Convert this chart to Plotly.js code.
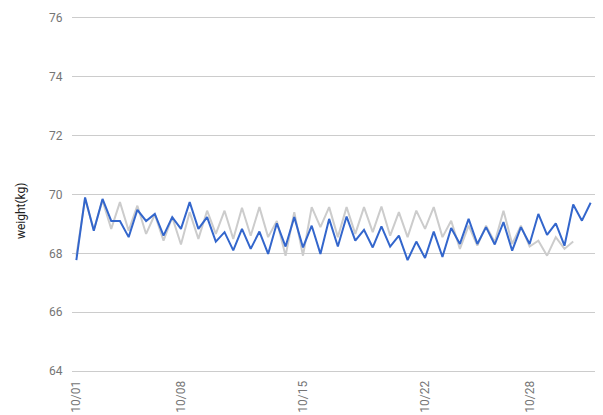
<!DOCTYPE html>
<html>
<head>
<meta charset="utf-8">
<script src="https://cdn.plot.ly/plotly-3.0.1.min.js"></script>
<style>
  html, body { margin: 0; padding: 0; background: #fff; }
  #chart { width: 603px; height: 415px; }
</style>
</head>
<body>
<div id="chart"></div>
<script>
// Measurement index (twice-daily readings)
const blueWeights = [
  67.77, 69.90, 68.77, 69.85, 69.10, 69.10, 68.55, 69.48, 69.10, 69.34,
  68.60, 69.23, 68.83, 69.74, 68.83, 69.23, 68.40, 68.72, 68.10, 68.83,
  68.15, 68.74, 67.98, 69.02, 68.23, 69.23, 68.20, 68.94, 67.98, 69.17,
  68.23, 69.25, 68.43, 68.80, 68.20, 68.92, 68.23, 68.60, 67.77, 68.40,
  67.84, 68.74, 67.88, 68.86, 68.32, 69.17, 68.32, 68.89, 68.30, 69.06,
  68.09, 68.89, 68.32, 69.34, 68.63, 69.02, 68.26, 69.66, 69.11, 69.72
];
const grayWeights = [
  67.92, 69.85, 68.80, 69.80, 68.83, 69.74, 68.77, 69.62, 68.66, 69.32,
  68.43, 69.23, 68.30, 69.40, 68.49, 69.45, 68.66, 69.45, 68.49, 69.55,
  68.60, 69.57, 68.55, 69.10, 67.92, 69.40, 67.92, 69.57, 68.89, 69.57,
  68.55, 69.57, 68.66, 69.57, 68.72, 69.59, 68.60, 69.40, 68.55, 69.45,
  68.83, 69.57, 68.55, 69.11, 68.15, 68.94, 68.26, 68.94, 68.38, 69.45,
  68.32, 68.94, 68.23, 68.43, 67.92, 68.55, 68.15, 68.40
];
const tickIndex = [0, 12, 26, 40, 52];
const tickLabels = ["10/01", "10/08", "10/15", "10/22", "10/28"];
const yTicks = [64, 66, 68, 70, 72, 74, 76];

const blueX = blueWeights.map((_, i) => i);
const grayX = grayWeights.map((_, i) => i);

const traces = [
  { x: grayX, y: grayWeights, type: 'scatter', mode: 'lines',
    line: { color: '#cccccc', width: 2 }, hoverinfo: 'none', showlegend: false },
  { x: blueX, y: blueWeights, type: 'scatter', mode: 'lines',
    line: { color: '#3366cc', width: 2 }, hoverinfo: 'none', showlegend: false }
];

const layout = {
  width: 603, height: 415,
  margin: { l: 72, r: 8, t: 18, b: 44 },
  paper_bgcolor: '#ffffff', plot_bgcolor: '#ffffff',
  font: { family: 'Roboto, Arial, sans-serif', size: 12, color: '#757575' },
  showlegend: false,
  xaxis: {
    range: [-0.5, 59.5],
    tickmode: 'array', tickvals: tickIndex, ticktext: tickLabels,
    tickangle: -90, showgrid: false, zeroline: false,
    showline: true, mirror: true, linecolor: '#cccccc', linewidth: 1,
    ticks: 'outside', ticklen: 4, tickcolor: 'rgba(0,0,0,0)',
    tickfont: { family: 'Roboto, Arial, sans-serif', size: 12, color: '#757575' }
  },
  yaxis: {
    range: [64, 76], tickmode: 'array', tickvals: yTicks,
    showgrid: true, gridcolor: '#cccccc', gridwidth: 1,
    zeroline: false, showline: false,
    ticks: 'outside', ticklen: 6, tickcolor: 'rgba(0,0,0,0)',
    tickfont: { family: 'Roboto, Arial, sans-serif', size: 12, color: '#757575' }
  },
  annotations: [{
    text: 'weight(kg)', xref: 'paper', yref: 'paper',
    x: -0.0975, y: 0.453, textangle: -90, showarrow: false,
    xanchor: 'center', yanchor: 'middle',
    font: { family: 'Roboto, Arial, sans-serif', size: 12, color: '#222222' }
  }]
};

Plotly.newPlot('chart', traces, layout, { displayModeBar: false, staticPlot: true });
</script>
</body>
</html>
